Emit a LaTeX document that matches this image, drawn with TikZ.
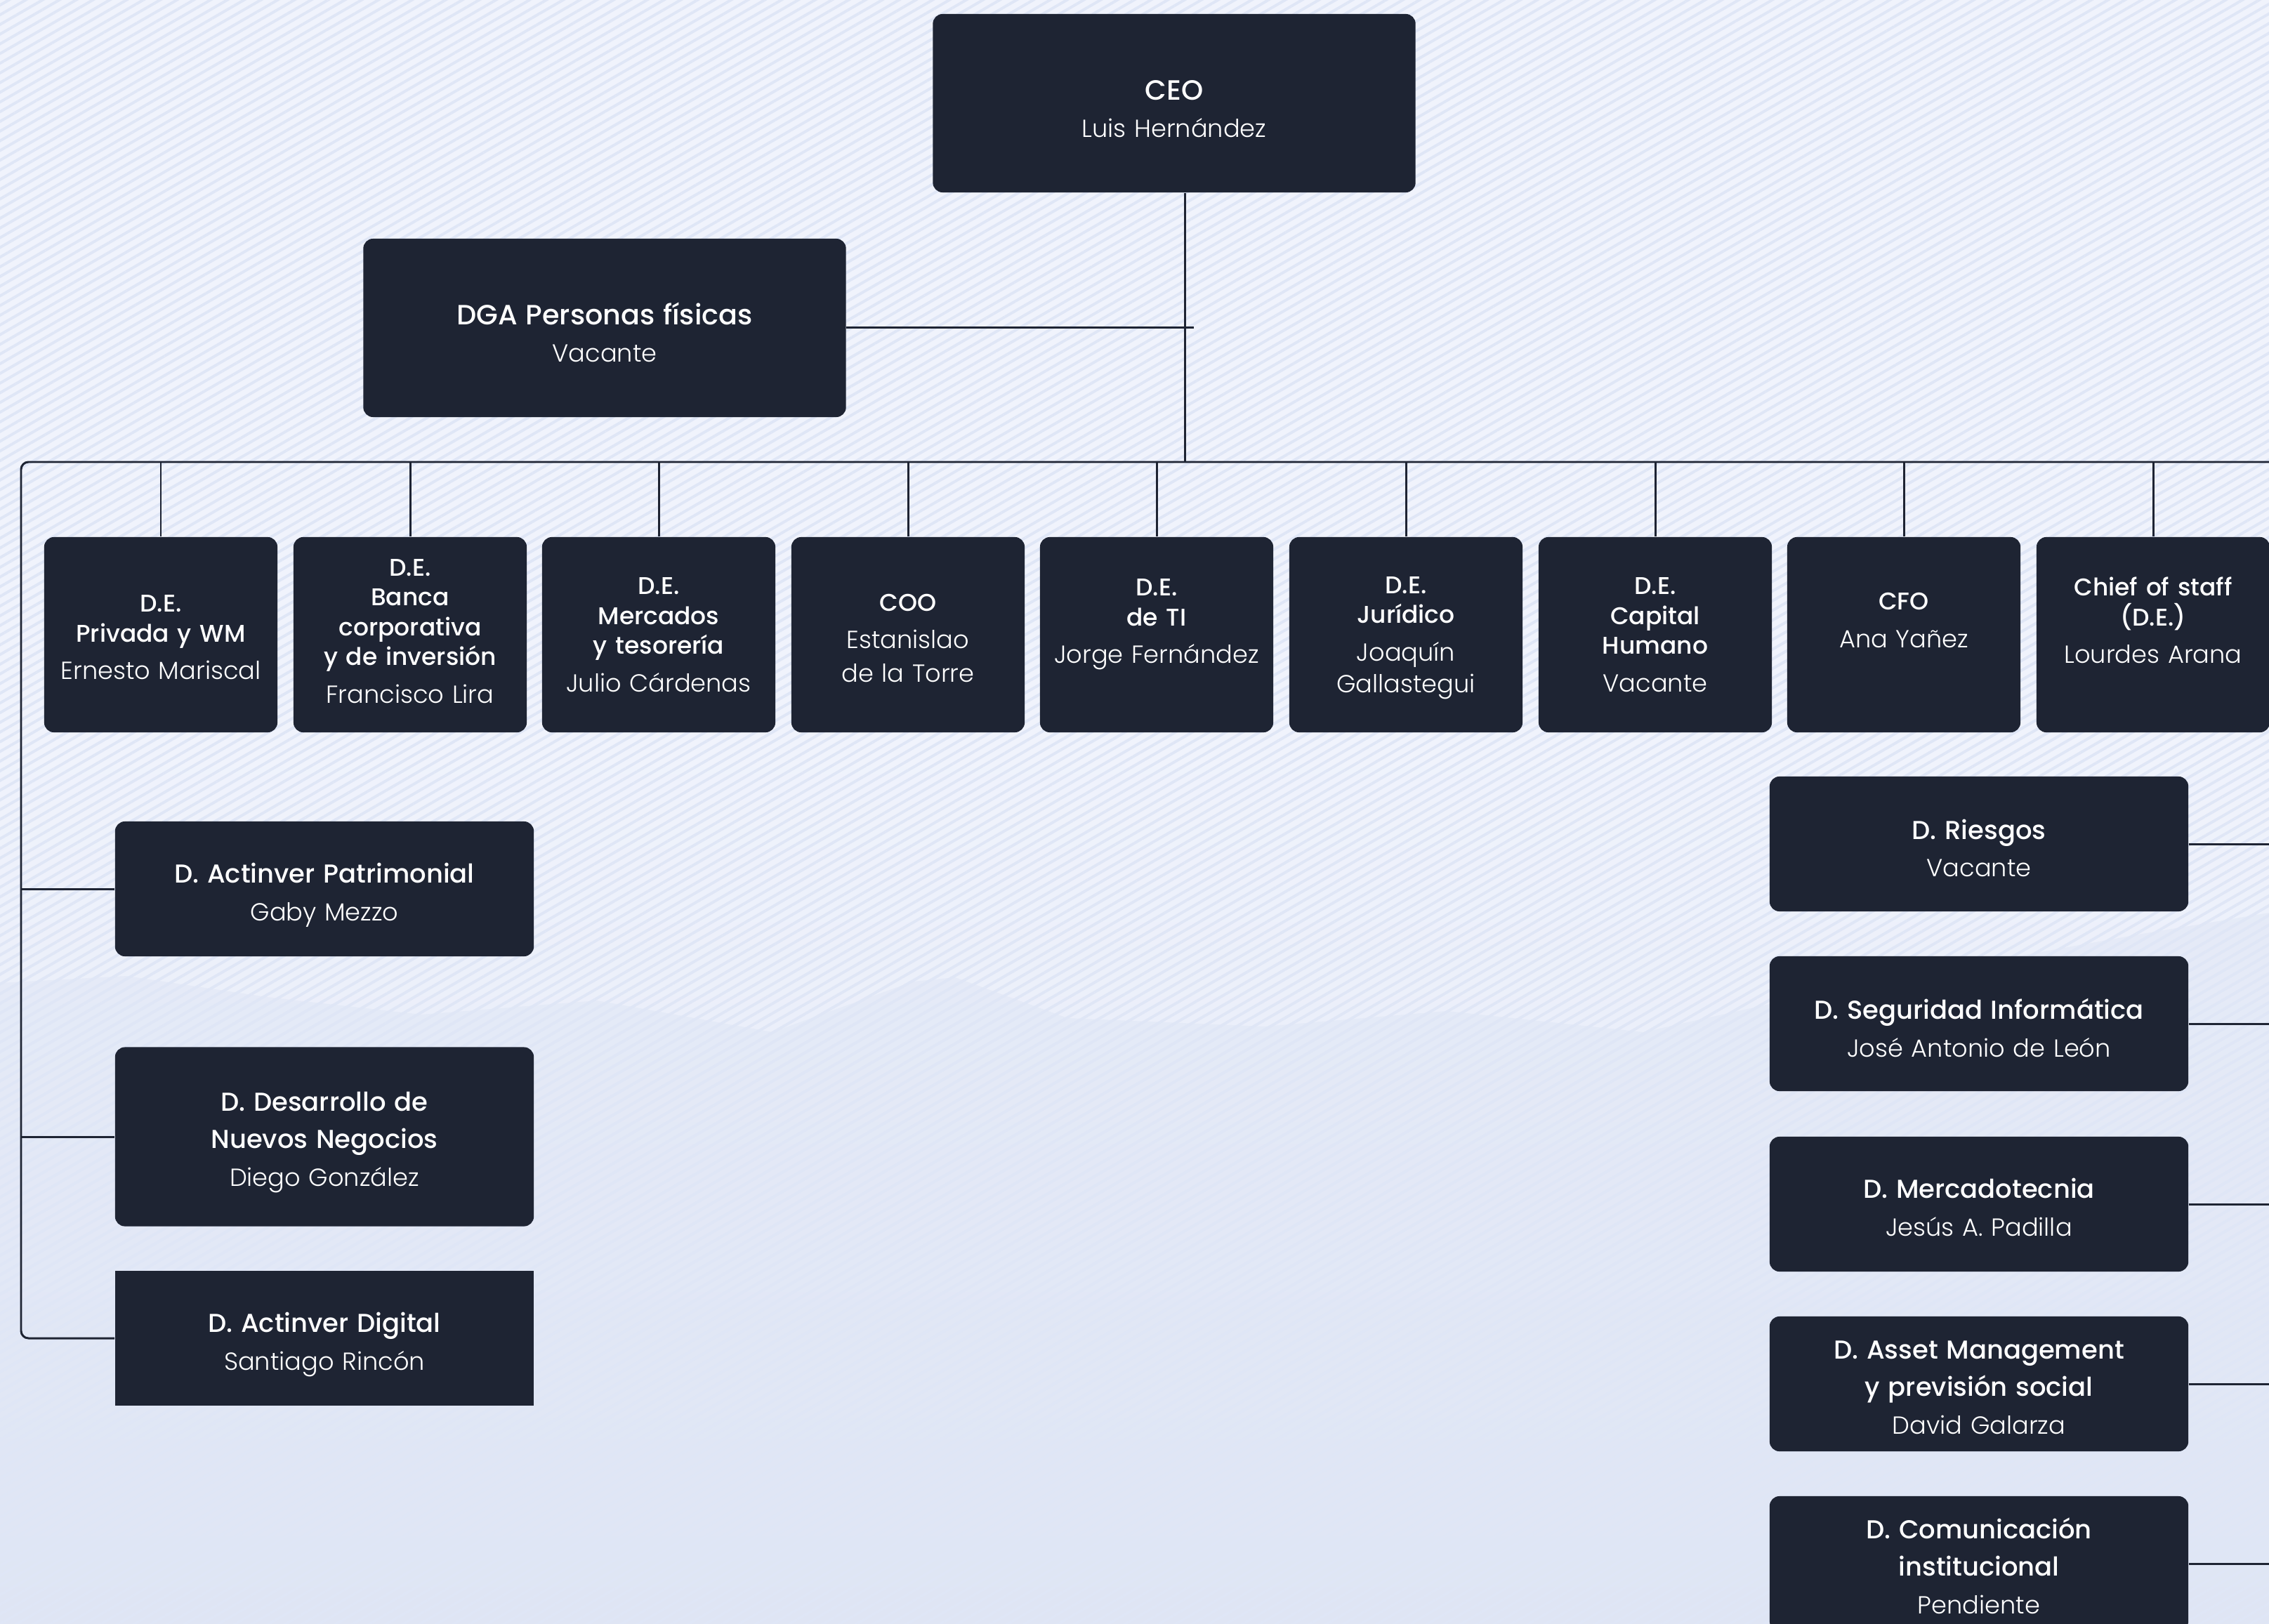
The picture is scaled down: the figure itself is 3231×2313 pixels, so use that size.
\documentclass[tikz,border=0pt]{standalone}
\usepackage{fontspec}
\setmainfont{Poppins}
\IfFontExistsTF{Poppins Medium}{\newfontfamily\titlefont{Poppins Medium}}{\newcommand\titlefont{\bfseries}}
\IfFontExistsTF{Poppins Light}{\newfontfamily\namefont{Poppins Light}}{\newcommand\namefont{\normalfont}}
\definecolor{boxfill}{RGB}{30, 36, 51}
\definecolor{bgtop}{RGB}{240, 243, 252}
\definecolor{bgbot}{RGB}{225, 231, 245}
\definecolor{stripe}{RGB}{223, 230, 246}
\definecolor{hill}{RGB}{221, 228, 244}
\usetikzlibrary{calc}
\usetikzlibrary{patterns,patterns.meta}
\newcommand{\tsz}{10.5}
\newcommand{\role}[3][0pt]{{\titlefont\fontsize{\tsz}{\baselineskip}\selectfont #2}\\[#1]{\namefont #3}}
\tikzset{
    orgbox/.style={fill=boxfill, text=white, rounded corners=4pt, align=center, inner sep=0pt,
        font=\fontsize{10}{15.2}\selectfont\renewcommand\tsz{10.5}},
    headbox/.style={orgbox, minimum width=6.87cm, minimum height=2.54cm, text width=6.4cm,
        font=\fontsize{10}{15.2}\selectfont\renewcommand\tsz{11.3}},
    derow/.style={orgbox, minimum width=3.32cm, minimum height=2.78cm, text width=3.1cm,
        font=\fontsize{10}{12.1}\selectfont\renewcommand\tsz{9.8}},
    sidebox/.style={orgbox, minimum width=5.96cm, minimum height=1.92cm, text width=5.6cm},
    textshift/.style={execute at end node={\par\vspace*{#1}}},
    orgline/.style={draw=boxfill, line width=0.85pt}
}

\begin{document}
\begin{tikzpicture}[x=0.01cm, y=-0.01cm]
	\useasboundingbox (0,0) rectangle (3231,2313);
	\clip (0,0) rectangle (3231,2313);
	
	% background
	\fill[bgtop] (0,0) rectangle (3231,2313);
	\shade[top color=bgtop, bottom color=bgbot] (0,1050) rectangle (3231,2313);
	\fill[hill, fill opacity=0.45] (0,1400) -- (180,1390) -- (380,1420) -- (600,1445) -- (850,1425)
		-- (1100,1470) -- (1300,1398) -- (1360,1392) -- (1520,1450) -- (1800,1462) -- (2060,1440)
		-- (2340,1470) -- (2520,1430) -- (2800,1375) -- (3050,1330) -- (3231,1300)
		-- (3231,2313) -- (0,2313) -- cycle;
	\fill[pattern={Lines[angle=30,distance=3.4pt,line width=1.1pt]}, pattern color=stripe,
		fill opacity=0.7] (0,0) rectangle (3231,2313);
	
	\node[headbox, textshift=-4.7pt] (ceo) at (1672,147) {\role{CEO}{Luis Hernández}};
	\node[headbox, textshift=-3.5pt] (dga) at (861,467) {\role{DGA Personas físicas}{Vacante}};
	
	\node[derow, textshift=-2.3pt] (priv) at (229,904) {\role[3.1pt]{D.E.\\Privada y WM}{Ernesto Mariscal}};
	\node[derow, textshift=3pt] (banca) at (584,904) {\role[3.1pt]{D.E.\\Banca\\corporativa\\y de inversión}{Francisco Lira}};
	\node[derow] (merc) at (938,904) {\role[3.1pt]{D.E.\\Mercados\\y tesorería}{Julio Cárdenas}};
	\node[derow, textshift=-2.6pt] (coo) at (1293,904) {\role[3.1pt]{COO}{Estanislao\\[1.4pt]de la Torre}};
	\node[derow, textshift=8.2pt] (ti) at (1647,904) {\role[3.1pt]{D.E.\\de TI}{Jorge Fernández}};
	\node[derow, textshift=-2.5pt] (jur) at (2002,904) {\role[3.1pt]{D.E.\\Jurídico}{Joaquín\\[0.6pt]Gallastegui}};
	\node[derow] (capital) at (2357,904) {\role[3.1pt]{D.E.\\Capital\\Humano}{Vacante}};
	\node[derow, textshift=11.7pt] (cfo) at (2711,904) {\role[3.1pt]{CFO}{Ana Yañez}};
	\node[derow, textshift=11.7pt] (staff) at (3066,904) {\role[3.1pt]{Chief of staff\\(D.E.)}{Lourdes Arana}};
	
	\node[sidebox, textshift=-5pt] (patri) at (462,1266) {\role{D. Actinver Patrimonial}{Gaby Mezzo}};
	\node[sidebox, minimum height=2.55cm, textshift=-4.5pt] (nuevos) at (462,1619) {\role{D. Desarrollo de\\Nuevos Negocios}{Diego González}};
	\node[sidebox, sharp corners, textshift=-5pt] (digital) at (462,1906) {\role{D. Actinver Digital}{Santiago Rincón}};
	
	\node[sidebox, textshift=-3.4pt] (riesgos) at (2818,1202) {\role{D. Riesgos}{Vacante}};
	\node[sidebox, textshift=-3.4pt] (seguridad) at (2818,1458) {\role{D. Seguridad Informática}{José Antonio de León}};
	\node[sidebox, textshift=-2.4pt] (merca) at (2818,1715) {\role{D. Mercadotecnia}{Jesús A. Padilla}};
	\node[sidebox, textshift=-2.8pt] (asset) at (2818,1971) {\role{D. Asset Management\\y previsión social}{David Galarza}};
	\node[sidebox, textshift=-1.8pt] (comu) at (2818,2227) {\role{D. Comunicación\\institucional}{Pendiente}};
	
	\coordinate (trunk) at (1687,658);
	\coordinate (dgaend) at (1700,467);
	\coordinate (busend) at (3245,658);
	\coordinate (leftx) at (30,658);
	\coordinate (rightx) at (3245,0);
	
	\draw[orgline] (ceo.south -| trunk) -- (trunk);
	\draw[orgline] (dga.east) -- (dga.east -| dgaend);
	\draw[orgline, rounded corners=3pt] (busend) -| (leftx |- digital.west) -- (digital.west);
	\draw[orgline] (patri.west -| leftx) -- (patri.west);
	\draw[orgline] (nuevos.west -| leftx) -- (nuevos.west);
	
	\draw[orgline] (priv.north) -- (priv.north |- trunk);
	\draw[orgline] (banca.north) -- (banca.north |- trunk);
	\draw[orgline] (merc.north) -- (merc.north |- trunk);
	\draw[orgline] (coo.north) -- (coo.north |- trunk);
	\draw[orgline] (ti.north) -- (ti.north |- trunk);
	\draw[orgline] (jur.north) -- (jur.north |- trunk);
	\draw[orgline] (capital.north) -- (capital.north |- trunk);
	\draw[orgline] (cfo.north) -- (cfo.north |- trunk);
	\draw[orgline] (staff.north) -- (staff.north |- trunk);
	
	\draw[orgline] (riesgos.east) -- (riesgos.east -| rightx);
	\draw[orgline] (seguridad.east) -- (seguridad.east -| rightx);
	\draw[orgline] (merca.east) -- (merca.east -| rightx);
	\draw[orgline] (asset.east) -- (asset.east -| rightx);
	\draw[orgline] (comu.east) -- (comu.east -| rightx);
\end{tikzpicture}
\end{document}
